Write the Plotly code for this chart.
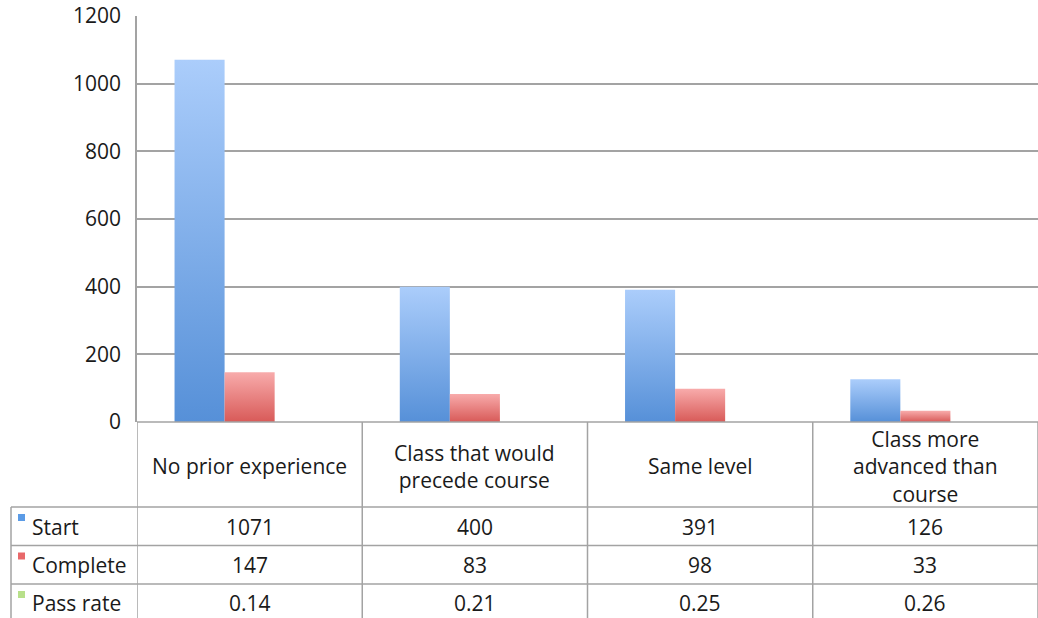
import plotly.graph_objects as go

# --- data ---------------------------------------------------------------
categories = [
    "No prior experience",
    "Class that would<br>precede course",
    "Same level",
    "Class more<br>advanced than<br>course",
]
series_names = ["Start", "Complete", "Pass rate"]
start = [1071, 400, 391, 126]
complete = [147, 83, 98, 33]
pass_rate = [0.14, 0.21, 0.25, 0.26]
pass_rate_text = ["0.14", "0.21", "0.25", "0.26"]
y_ticks = [0, 200, 400, 600, 800, 1000, 1200]

series_values = [start, complete, pass_rate]
series_text = [[str(v) for v in start], [str(v) for v in complete], pass_rate_text]
# (bottom colour, top colour) for the vertical gradient of each series
series_grad = [("#5690d8", "#abcdfb"), ("#d85a58", "#f8abab"), ("#8fc05a", "#c8eaa0")]
series_key = ["#5b9be6", "#e8686a", "#b8e08a"]

FONT = "Open Sans, Liberation Sans, Arial, sans-serif"
FS = 21
TXT = "#1a1a1a"
LINE = "#a3a3a3"

W, H = 1038, 618
ML, MR, MT, MB = 137, 0, 16, 196
plot_h = H - MT - MB
plot_w = W - ML - MR


def py(px_y):
    """pixel row -> paper y"""
    return (H - MB - px_y) / plot_h


def px(px_x):
    """pixel column -> paper x"""
    return (px_x - ML) / plot_w


fig = go.Figure()

# grouped bars with a vertical gradient, one polygon per bar
n_series = len(series_values)
gap = 1 / 3
bar_w = (1 - gap) / n_series
for s, vals in enumerate(series_values):
    lo, hi = series_grad[s]
    for i, v in enumerate(vals):
        x0 = i - 0.5 + gap / 2 + s * bar_w
        x1 = x0 + bar_w
        fig.add_trace(go.Scatter(
            x=[x0, x1, x1, x0, x0],
            y=[0, 0, v, v, 0],
            mode="lines",
            line=dict(width=0),
            fill="toself",
            fillgradient=dict(type="vertical", colorscale=[[0, lo], [1, hi]]),
            name=series_names[s],
            showlegend=False,
            hoverinfo="skip",
        ))

shapes = []
annotations = []

# data table below the plot
col_edges = [i - 0.5 for i in range(len(categories) + 1)]
for xe in col_edges:
    shapes.append(dict(type="line", xref="x", yref="paper", x0=xe, x1=xe,
                       y0=0, y1=py(H + 2), line=dict(color=LINE, width=1.5)))
row_tops = [507, 545.5, 584]
for ry in row_tops:
    shapes.append(dict(type="line", xref="paper", yref="paper",
                       x0=px(11), x1=px(W + 2), y0=py(ry), y1=py(ry),
                       line=dict(color=LINE, width=1.5)))
shapes.append(dict(type="line", xref="paper", yref="paper",
                   x0=px(11), x1=px(11), y0=py(507), y1=py(H + 2),
                   line=dict(color=LINE, width=1.5)))
shapes.append(dict(type="line", xref="paper", yref="paper",
                   x0=0, x1=1, y0=0, y1=0, line=dict(color=LINE, width=1.5)))

# category header cells
for i, c in enumerate(categories):
    annotations.append(dict(x=i, y=py(466), xref="x", yref="paper", text=c,
                            showarrow=False, xanchor="center", yanchor="middle",
                            font=dict(family=FONT, size=FS, color=TXT)))

row_centers = [526.5, 564.5, 602.5]
for s in range(n_series):
    yc = row_centers[s]
    top = row_tops[s]
    # legend key square
    shapes.append(dict(type="rect", xref="paper", yref="paper",
                       x0=px(18), x1=px(25), y0=py(top + 14), y1=py(top + 7),
                       fillcolor=series_key[s], line=dict(width=0)))
    annotations.append(dict(x=px(30), y=py(yc), xref="paper", yref="paper",
                            text=series_names[s], showarrow=False,
                            xanchor="left", yanchor="middle",
                            font=dict(family=FONT, size=FS, color=TXT)))
    for i, t in enumerate(series_text[s]):
        annotations.append(dict(x=i, y=py(yc), xref="x", yref="paper", text=t,
                                showarrow=False, xanchor="center", yanchor="middle",
                                font=dict(family=FONT, size=FS, color=TXT)))

fig.update_layout(
    width=W, height=H,
    margin=dict(l=ML, r=MR, t=MT, b=MB, pad=0),
    paper_bgcolor="white", plot_bgcolor="white",
    showlegend=False,
    shapes=shapes,
    annotations=annotations,
    xaxis=dict(range=[-0.5, len(categories) - 0.5], showgrid=False,
               zeroline=False, showticklabels=False, showline=False,
               fixedrange=True),
    yaxis=dict(range=[0, 1200], tickvals=y_ticks, showgrid=True,
               gridcolor=LINE, gridwidth=1.5, zeroline=False,
               showline=True, linecolor=LINE, linewidth=1.5,
               ticks="", ticklabelstandoff=10,
               tickfont=dict(family=FONT, size=FS, color=TXT),
               fixedrange=True),
)

fig.write_html("out.html", config={"displayModeBar": False})
